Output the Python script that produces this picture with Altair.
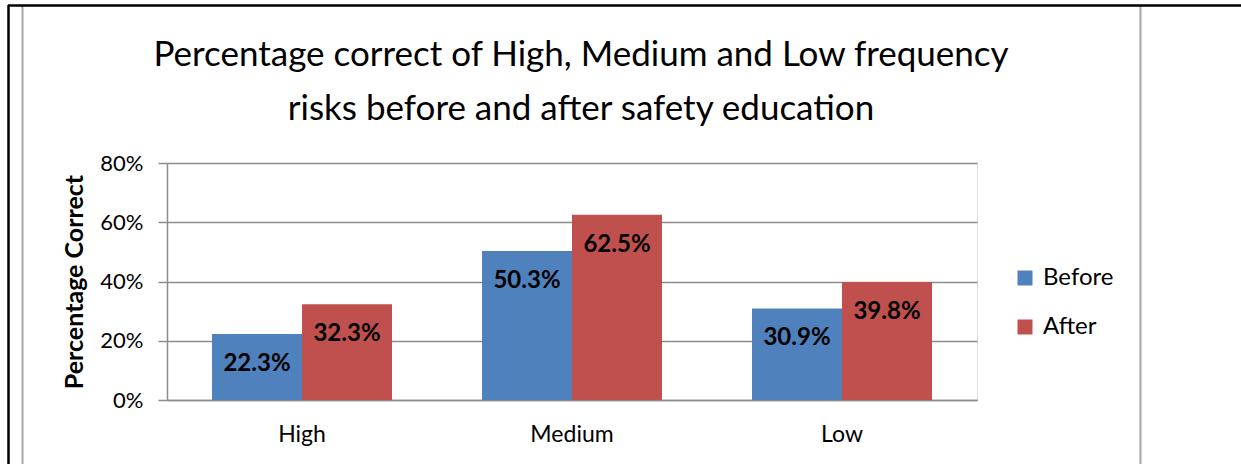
import altair as alt
import pandas as pd

# Risk frequency groups and the share answered correctly before/after education
categories = ["High", "Medium", "Low"]
series = ["Before", "After"]
before = [0.223, 0.503, 0.309]
after = [0.323, 0.625, 0.398]
title_lines = [
    "Percentage correct of High, Medium and Low frequency",
    "risks before and after safety education",
]

rows = []
for i, c in enumerate(categories):
    rows.append({"cat": c, "series": "Before", "value": before[i]})
    rows.append({"cat": c, "series": "After", "value": after[i]})
df = pd.DataFrame(rows)

FONT = "Lato"
BLUE = "#4F81BD"
RED = "#C0504D"
GRID = "#8C8C8C"

PLOT_W, PLOT_H = 810, 237
PAD_L, PAD_T = 167, 163

x_enc = alt.X(
    "cat:N",
    sort=categories,
    scale=alt.Scale(paddingInner=1 / 3, paddingOuter=1 / 6),
    axis=alt.Axis(
        title=None,
        labelAngle=0,
        labelFont=FONT,
        labelFontSize=23,
        labelColor="#000000",
        labelPadding=23,
        ticks=False,
        domainColor=GRID,
        domainWidth=1.5,
    ),
)
xoff_enc = alt.XOffset("series:N", sort=series, scale=alt.Scale(paddingInner=0, paddingOuter=0))
y_enc = alt.Y(
    "value:Q",
    scale=alt.Scale(domain=[0, 0.8], nice=False),
    axis=alt.Axis(
        title="Percentage Correct",
        titleFont=FONT,
        titleFontSize=25,
        titleFontWeight="bold",
        titleColor="#000000",
        titleX=-93,
        titleY=PLOT_H / 2,
        titleAngle=-90,
        titleBaseline="middle",
        titleAlign="center",
        values=[0, 0.2, 0.4, 0.6, 0.8],
        format=".0%",
        labelFont=FONT,
        labelFontSize=22,
        labelColor="#000000",
        labelPadding=15,
        tickSize=9,
        tickColor=GRID,
        tickWidth=1.5,
        domainColor=GRID,
        domainWidth=1.5,
        grid=True,
        gridColor=GRID,
        gridWidth=1.5,
    ),
)

bars = alt.Chart(df).mark_bar(size=90).encode(
    x=x_enc,
    xOffset=xoff_enc,
    y=y_enc,
    color=alt.Color(
        "series:N",
        sort=series,
        scale=alt.Scale(domain=series, range=[BLUE, RED]),
        legend=alt.Legend(
            title=None,
            orient="none",
            legendX=846,
            legendY=103,
            symbolType="square",
            symbolSize=225,
            symbolStrokeWidth=0,
            labelFont=FONT,
            labelFontSize=24,
            labelColor="#000000",
            labelOffset=6,
            rowPadding=25,
            padding=0,
        ),
    ),
)

labels = alt.Chart(df).mark_text(
    font=FONT, fontSize=24, fontWeight="bold", color="#000000", baseline="middle", dy=30
).encode(
    x=alt.X("cat:N", sort=categories),
    xOffset=alt.XOffset("series:N", sort=series),
    y="value:Q",
    text=alt.Text("value:Q", format=".1%"),
)

one = pd.DataFrame({"k": [0]})

# Two-line chart heading, centred over the chart frame
heading = [
    alt.Chart(one).mark_text(
        text=line, font=FONT, fontSize=35, color="#000000", align="center", baseline="middle"
    ).encode(x=alt.value(581 - PAD_L), y=alt.value(cy - PAD_T))
    for line, cy in zip(title_lines, [55, 109])
]


def vline(px, y0, y1, color, width):
    return alt.Chart(one).mark_rule(color=color, strokeWidth=width).encode(
        x=alt.value(px - PAD_L), y=alt.value(y0 - PAD_T), y2=alt.value(y1 - PAD_T)
    )


def hline(py, x0, x1, color, width):
    return alt.Chart(one).mark_rule(color=color, strokeWidth=width).encode(
        y=alt.value(py - PAD_T), x=alt.value(x0 - PAD_L), x2=alt.value(x1 - PAD_L)
    )


frame = [
    vline(22.5, 6, 470, "#A6A6A6", 2),
    vline(1140.5, 6, 470, "#A6A6A6", 2),
    hline(5.5, 8, 1245, "#000000", 2.5),
    vline(8.5, 5, 470, "#000000", 2.5),
]

chart = (
    alt.layer(bars, labels, *heading, *frame)
    .properties(
        width=PLOT_W,
        height=PLOT_H,
        padding={"left": PAD_L, "top": PAD_T, "right": 1241 - PAD_L - PLOT_W, "bottom": 464 - PAD_T - PLOT_H},
        autosize=alt.AutoSizeParams(type="none"),
    )
    .configure_view(stroke=None)
    .configure(background="#FFFFFF")
)

chart.save("out.html", embed_options={"renderer": "svg", "actions": False})
